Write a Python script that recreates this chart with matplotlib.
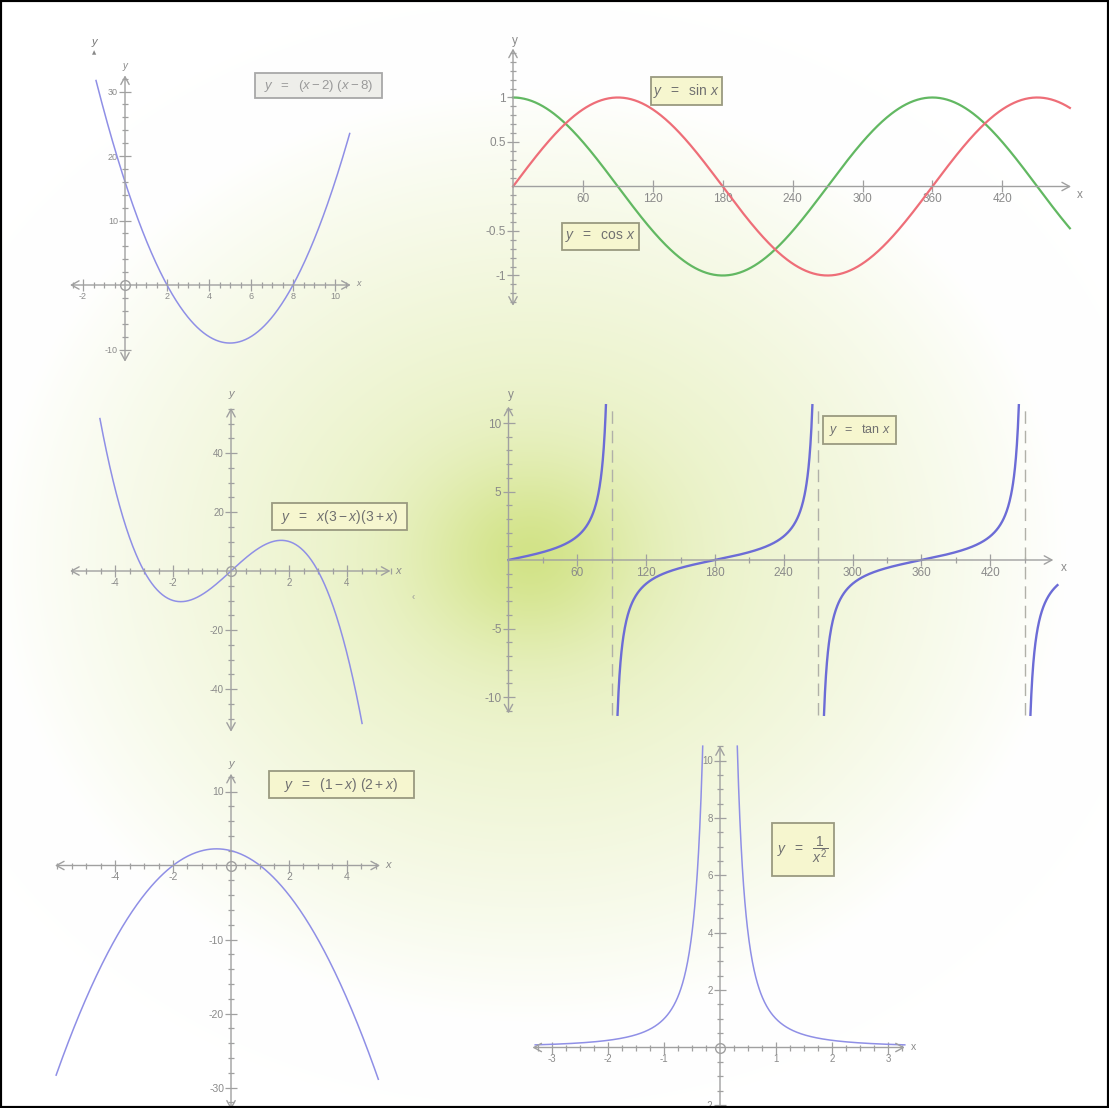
import numpy as np
import matplotlib
matplotlib.use("Agg")
import matplotlib.pyplot as plt
from matplotlib.patches import Rectangle

plt.rcParams["font.family"] = ["Liberation Sans", "DejaVu Sans"]
plt.rcParams["mathtext.fontset"] = "custom"
plt.rcParams["mathtext.rm"] = "Liberation Sans"
plt.rcParams["mathtext.it"] = "Liberation Sans:italic"
plt.rcParams["mathtext.bf"] = "Liberation Sans:bold"
plt.rcParams["axes.unicode_minus"] = False

W, H = 1109, 1108

# ---- data ----------------------------------------------------------------
# y = (x - 2)(x - 8)
quad1_domain = [-1.38, 10.7]
quad1_xticks = [-2, 2, 4, 6, 8, 10]
quad1_yticks = [-10, 10, 20, 30]

# y = sin x, y = cos x  (degrees)
trig_domain = [0, 478]
trig_xticks = [60, 120, 180, 240, 300, 360, 420]
trig_yticks = [-1, -0.5, 0.5, 1]

# y = tan x  (degrees)
tan_domain = [0, 478.6]
tan_clip = 11.3
tan_asymptotes = [90, 270, 450]
tan_xticks = [60, 120, 180, 240, 300, 360, 420]
tan_yticks = [-10, -5, 5, 10]

# y = x(3 - x)(3 + x)
cubic_domain = [-4.52, 4.52]
cubic_xticks = [-4, -2, 2, 4]
cubic_yticks = [-40, -20, 20, 40]

# y = (1 - x)(2 + x)
quad2_domain = [-6.03, 5.08]
quad2_xticks = [-4, -2, 2, 4]
quad2_yticks = [-30, -20, -10, 10]

# y = 1 / x^2
recip_domain = [-3.3, 3.3]
recip_clip = 10.5
recip_xticks = [-3, -2, -1, 1, 2, 3]
recip_yticks = [-2, 2, 4, 6, 8, 10]

AX_C = "#a0a0a0"
TXT_C = "#8a8a8a"
CURVE_C = "#8f8fe6"

fig = plt.figure(figsize=(W / 100, H / 100), dpi=100)

# soft radial green background
bg = fig.add_axes([0, 0, 1, 1], zorder=-5)
yy, xx = np.mgrid[0:H, 0:W]
r = np.sqrt(((xx - 530) / 540.0) ** 2 + ((yy - 555) / 470.0) ** 2)
s = 0.62 * np.clip(1 - r, 0, 1) ** 0.9 + 0.38 * np.exp(-(r / 0.2) ** 2)
centre = np.array([210, 227, 135]) / 255.0
img = 1 - s[..., None] * (1 - centre)
bg.imshow(img, aspect="auto", extent=[0, W, H, 0])
bg.axis("off")


def plot_axes(origin, scale, xlim, ylim):
    ox, oy = origin
    sx, sy = scale
    l = ox + xlim[0] * sx
    r_ = ox + xlim[1] * sx
    t = oy - ylim[1] * sy
    b = oy - ylim[0] * sy
    ax = fig.add_axes([l / W, 1 - b / H, (r_ - l) / W, (b - t) / H])
    ax.set_xlim(xlim); ax.set_ylim(ylim)
    ax.set_facecolor("none")
    for sp in ["top", "right"]:
        ax.spines[sp].set_visible(False)
    ax.spines["left"].set_position(("data", 0))
    ax.spines["bottom"].set_position(("data", 0))
    ax.spines["left"].set_color("none")
    ax.spines["bottom"].set_color("none")
    return ax


def fmt(v):
    return f"{v:g}"


def style_ticks(ax, xmaj, xmin, ymaj, ymin, fs):
    ax.set_xticks(xmaj); ax.set_xticklabels([fmt(v) for v in xmaj])
    ax.set_yticks(ymaj); ax.set_yticklabels([fmt(v) for v in ymaj])
    ax.set_xticks([v for v in xmin if abs(v) > 1e-9], minor=True)
    ax.set_yticks([v for v in ymin if abs(v) > 1e-9], minor=True)
    ax.tick_params(which="major", direction="inout", length=8, width=0.9,
                   color=AX_C, labelcolor=TXT_C, labelsize=fs, pad=1)
    ax.tick_params(which="minor", direction="inout", length=4, width=0.9, color=AX_C)


def axis_lines(ax, xr, yr, x_both=True):
    arrow = dict(color=AX_C, lw=1.0, shrinkA=0, shrinkB=0, mutation_scale=10)
    ax.annotate("", xy=(xr[1], 0), xytext=(xr[0], 0), annotation_clip=False,
                arrowprops=dict(arrowstyle=("<->" if x_both else "->") + ",head_length=0.55,head_width=0.3", **arrow))
    ax.annotate("", xy=(0, yr[1]), xytext=(0, yr[0]), annotation_clip=False,
                arrowprops=dict(arrowstyle="<->,head_length=0.55,head_width=0.3", **arrow))


def ax_label(ax, text, xy, off, italic=True, fs=8):
    ax.annotate(text, xy=xy, xytext=off, textcoords="offset pixels", ha="center", va="center",
                color=TXT_C, fontsize=fs, style="italic" if italic else "normal",
                annotation_clip=False)


def origin_ring(ax):
    ax.plot(0, 0, "o", ms=7, mfc="none", mec=AX_C, mew=1.0, zorder=4)


def label_box(x0, y0, x1, y1, text, fc="#f6f6cf", ec="#9a9a80", tc="#707070", fs=10):
    fig.add_artist(Rectangle((x0 / W, 1 - y1 / H), (x1 - x0) / W, (y1 - y0) / H,
                             transform=fig.transFigure, fc=fc, ec=ec, lw=1.3))
    fig.text((x0 + x1) / 2 / W, 1 - (y0 + y1) / 2 / H, text, ha="center", va="center",
             color=tc, fontsize=fs)


# (1) y = (x-2)(x-8)
ax = plot_axes((125, 285), (21, 6.45), (-2.8, 11.0), (-12.5, 33.0))
x = np.linspace(*quad1_domain, 400)
ax.plot(x, (x - 2) * (x - 8), color=CURVE_C, lw=1.1, zorder=3)
style_ticks(ax, quad1_xticks, np.arange(-2.5, 10.6, 0.5), quad1_yticks, np.arange(-10, 32.1, 2), 6.5)
axis_lines(ax, (-2.62, 10.75), (-11.9, 32.5))
origin_ring(ax)
ax_label(ax, "x", (10.75, 0), (8, 1), fs=6.5)
ax_label(ax, "y", (0, 32.5), (0, 9), fs=7)
fig.text(94 / W, 1 - 42 / H, "y", ha="center", va="center", color="#777777", fontsize=8, style="italic")
fig.text(94 / W, 1 - 53 / H, "▲", ha="center", va="center", color="#888888", fontsize=4,
         family=["DejaVu Sans"])
label_box(255, 73, 382, 98, r"$y\ \ =\ \ (x-2)\ (x-8)$", fc="#eeeeea", ec="#a8a8a8", tc="#9a9a9a", fs=9.5)

# (2) y = sin x, y = cos x
ax = plot_axes((513, 186.5), (1.165, 89), (-20, 490), (-1.45, 1.65))
x = np.linspace(*trig_domain, 600)
ax.plot(x, np.cos(np.deg2rad(x)), color="#62b862", lw=1.6, zorder=3)
ax.plot(x, np.sin(np.deg2rad(x)), color="#ee6e78", lw=1.6, zorder=3)
style_ticks(ax, trig_xticks, [], trig_yticks, np.arange(-1.3, 1.51, 0.1), 8.5)
axis_lines(ax, (0, 479), (-1.34, 1.55), x_both=False)
ax_label(ax, "x", (479, 0), (9, -9), italic=False, fs=8.5)
ax_label(ax, "y", (0, 1.55), (2, 8), italic=False, fs=8.5)
label_box(651, 77, 722, 105, r"$y\ \ =\ \ \sin\,x$")
label_box(562, 223, 639, 250, r"$y\ \ =\ \ \cos\,x$")

# (3) y = tan x
ax = plot_axes((508.5, 560), (1.147, 13.7), (-20, 490), (-12, 12))
d = 90 - np.degrees(np.arctan(tan_clip))
edges = [tan_domain[0]]
for a in tan_asymptotes:
    edges += [a - d, a + d]
edges.append(tan_domain[1])
for lo, hi in zip(edges[::2], edges[1::2]):
    x = np.linspace(lo, hi, 400)
    ax.plot(x, np.tan(np.deg2rad(x)), color="#6c6cd6", lw=1.7, zorder=3)
ax.vlines(tan_asymptotes, -tan_clip, tan_clip, colors="#b0b0a8", lw=1.0,
          linestyles=(0, (9, 5)), zorder=2)
style_ticks(ax, tan_xticks, np.arange(30, 471, 30), tan_yticks, np.arange(-11, 11.1, 1), 8.5)
axis_lines(ax, (0, 475), (-11.2, 11.2), x_both=False)
ax_label(ax, "x", (475, 0), (10, -8), italic=False, fs=8.5)
ax_label(ax, "y", (0, 11.2), (2, 12), italic=False, fs=8.5)
label_box(823, 416, 896, 444, r"$y\ \ =\ \ \tan\,x$", fs=9)

# (4) y = x(3-x)(3+x)
ax = plot_axes((231, 571), (29, 2.95), (-5.8, 5.8), (-56, 57))
x = np.linspace(*cubic_domain, 400)
ax.plot(x, x * (3 - x) * (3 + x), color=CURVE_C, lw=1.1, zorder=3)
style_ticks(ax, cubic_xticks, np.arange(-5.5, 5.51, 0.5), cubic_yticks, np.arange(-50, 55.1, 5), 7)
axis_lines(ax, (-5.55, 5.5), (-54.5, 55.3))
origin_ring(ax)
ax_label(ax, "x", (5.5, 0), (8, 0), fs=8)
ax_label(ax, "y", (0, 55.3), (0, 14), fs=8)
fig.text(413 / W, 1 - 597 / H, "‹", ha="center", va="center", color="#999999", fontsize=7)
label_box(272, 503, 407, 530, r"$y\ \ =\ \ x(3-x)(3+x)$", fs=10)

# (5) y = (1-x)(2+x)
ax = plot_axes((231, 865.5), (29, 7.4), (-6.3, 5.5), (-33, 13.5))
x = np.linspace(*quad2_domain, 400)
ax.plot(x, (1 - x) * (2 + x), color=CURVE_C, lw=1.1, zorder=3)
style_ticks(ax, quad2_xticks, np.arange(-6, 5.01, 0.5), quad2_yticks, np.arange(-32, 12.1, 2), 7.5)
axis_lines(ax, (-6.07, 5.14), (-33, 12.4))
origin_ring(ax)
ax_label(ax, "x", (5.14, 0), (8, 0), fs=8)
ax_label(ax, "y", (0, 12.4), (0, 10), fs=8)
label_box(269, 771, 414, 798, r"$y\ \ =\ \ (1-x)\ (2+x)$", fs=10)

# (6) y = 1/x^2
ax = plot_axes((720, 1047.5), (56, 28.7), (-3.5, 3.5), (-2.5, 11))
x0 = 1 / np.sqrt(recip_clip)
for lo, hi in [(recip_domain[0], -x0), (x0, recip_domain[1])]:
    x = np.linspace(lo, hi, 400)
    ax.plot(x, 1 / x ** 2, color=CURVE_C, lw=1.1, zorder=3)
style_ticks(ax, recip_xticks, np.arange(-3.25, 3.26, 0.25), recip_yticks, np.arange(-2, 10.51, 0.5), 7)
axis_lines(ax, (-3.35, 3.3), (-2.4, 10.5))
origin_ring(ax)
ax_label(ax, "x", (3.3, 0), (9, 0), italic=False, fs=7.5)
label_box(772, 823, 834, 876, r"$y\ \ =\ \ \dfrac{1}{x^2}$", fs=10)

# outer frame
fig.add_artist(Rectangle((0, 0), 1, 1, transform=fig.transFigure, fill=False,
                         edgecolor="black", lw=3, zorder=10))

fig.savefig("out.png", dpi=100)
